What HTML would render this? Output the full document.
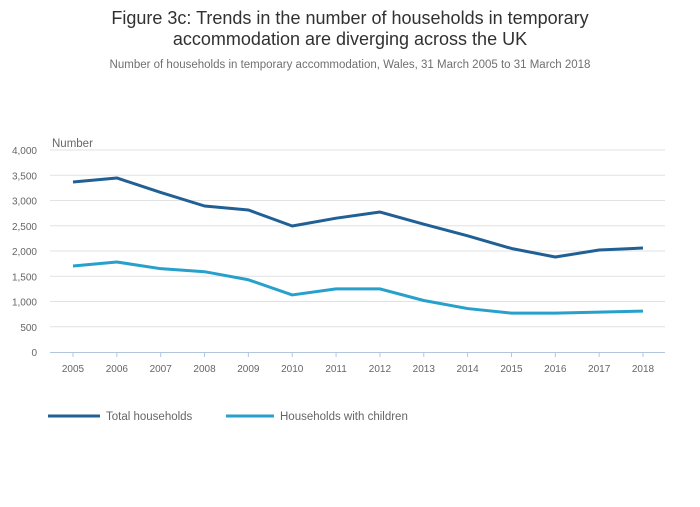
<!DOCTYPE html>
<html><head><meta charset="utf-8"><style>
body{margin:0;background:#fff;width:700px;height:502px;overflow:hidden;font-family:"Liberation Sans",sans-serif}
svg text{font-family:"Liberation Sans",sans-serif}
</style></head><body>
<svg id="chart" width="700" height="502" xmlns="http://www.w3.org/2000/svg">
<text x="350" y="24" text-anchor="middle" font-size="18" fill="#323132">Figure 3c: Trends in the number of households in temporary</text>
<text x="350" y="45" text-anchor="middle" font-size="18" fill="#323132">accommodation are diverging across the UK</text>
<text x="350" y="68" text-anchor="middle" font-size="11.5" fill="#707071">Number of households in temporary accommodation, Wales, 31 March 2005 to 31 March 2018</text>
<text x="52" y="147" font-size="11.5" fill="#666">Number</text>
<g id="grid"></g><g id="xaxis"></g><g id="lines"></g>
<g>
<line x1="48" y1="416" x2="100" y2="416" stroke="#206095" stroke-width="3"/>
<text x="106" y="420" font-size="11.5" fill="#666">Total households</text>
<line x1="226" y1="416" x2="274" y2="416" stroke="#27a0cc" stroke-width="3"/>
<text x="280" y="420" font-size="11.5" fill="#666">Households with children</text>
</g>
</svg>
<script>
const years=[2005,2006,2007,2008,2009,2010,2011,2012,2013,2014,2015,2016,2017,2018];
const totalHouseholds=[3366,3446,3160,2891,2812,2495,2650,2772,2530,2300,2050,1881,2020,2059];
const householdsWithChildren=[1703,1782,1650,1590,1430,1130,1250,1250,1020,860,770,770,790,810];
const yTicks=[0,500,1000,1500,2000,2500,3000,3500,4000];
const NS="http://www.w3.org/2000/svg";
const x=i=>73+i*(643-73)/(years.length-1);
const y=v=>352-v/4000*202;
function mk(t,a,p){const e=document.createElementNS(NS,t);for(const k in a)e.setAttribute(k,a[k]);p.appendChild(e);return e;}
const g=document.getElementById('grid');
yTicks.forEach(v=>{
 if(v>0){const l=mk('line',{x1:50,x2:665,y1:y(v),y2:y(v),stroke:'#e2e2e3','stroke-width':1},g);
 
 }
 const t=mk('text',{x:37,y:y(v)+4,'text-anchor':'end','font-size':10,fill:'#666'},g);
 
 
 t.textContent=v.toLocaleString('en-US');
});
const xa=document.getElementById('xaxis');
const ax=mk('line',{x1:50,x2:665,y1:352.5,y2:352.5,stroke:'#b3c5e0','stroke-width':1},xa);


years.forEach((yr,i)=>{
 mk('line',{x1:x(i),x2:x(i),y1:352,y2:357,stroke:'#b3c5e0'},xa);
 const t=mk('text',{x:x(i),y:372,'text-anchor':'middle','font-size':10,fill:'#666'},xa);
 
 
 t.textContent=yr;
});
const lg=document.getElementById('lines');
[[totalHouseholds,'#206095','total-households-line'],[householdsWithChildren,'#27a0cc','households-with-children-line']].forEach(([d,c,n])=>{
 const p=mk('polyline',{points:d.map((v,i)=>x(i)+','+y(v)).join(' '),fill:'none',stroke:c,'stroke-width':3,'stroke-linejoin':'round'},lg);
 
 
});
</script>
</body></html>
